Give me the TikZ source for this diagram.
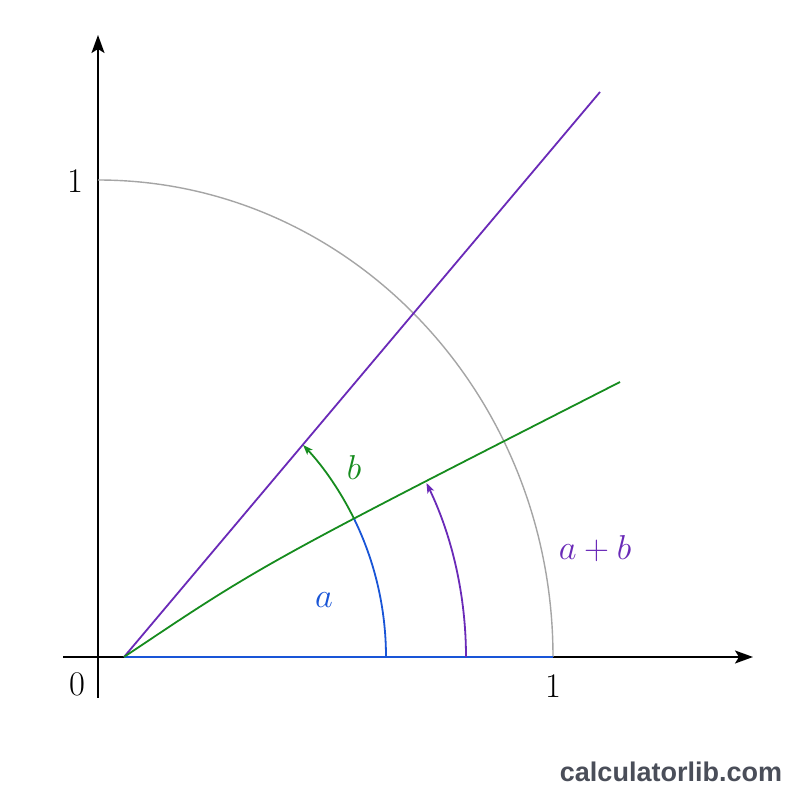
\documentclass[tikz,border=0pt]{standalone}
\usepackage{fontspec}
\newfontfamily\brandfont{Liberation Sans}
\usetikzlibrary{arrows.meta}
\definecolor{cpurple}{RGB}{106,42,184}
\definecolor{cgreen}{RGB}{22,140,30}
\definecolor{cblue}{RGB}{25,85,215}
\definecolor{cgray}{RGB}{165,165,165}
\definecolor{cbrand}{RGB}{74,78,89}
\tikzset{
  axis/.style={line width=1pt,-{Stealth[length=9pt,width=6.5pt,inset=2pt]}},
  ray/.style={line width=0.9pt},
  arcarrow/.style={line width=0.9pt,-{Stealth[length=5pt,width=3.6pt,inset=1.2pt]}},
  lbl/.style={inner sep=0pt},
}
\begin{document}
\begin{tikzpicture}[x=0.5pt,y=0.5pt,font=\fontsize{18}{22}\selectfont]
\useasboundingbox (0,0) rectangle (800,800);
\fill[white] (0,0) rectangle (800,800);
% key points
\coordinate (O) at (98,143);
\coordinate (P) at (124,143);
\coordinate (xs) at (63,143);
\coordinate (xe) at (753,143);
\coordinate (ys) at (98,102);
\coordinate (ye) at (98,765);
\coordinate (one) at (553,143);
\coordinate (pe) at (600,708);
\coordinate (gc) at (262,235.5);
\coordinate (ge) at (620,418);
% axes
\draw[axis] (xs) -- (xe);
\draw[axis] (ys) -- (ye);
% gray quarter arc
\draw[cgray,line width=0.7pt] (one) arc[start angle=0,end angle=90,x radius=227.5pt,y radius=238.5pt];
% rays
\draw[ray,cblue] (P) -- (one);
\draw[ray,cpurple] (P) -- (pe);
\draw[ray,cgreen] (P) .. controls (gc) .. (ge);
% angle arcs
\draw[ray,cblue] (O) ++(0:144pt and 151pt) arc[start angle=0,end angle=27.2,x radius=144pt,y radius=151pt];
\draw[arcarrow,cgreen] (O) ++(27.2:144pt and 151pt) arc[start angle=27.2,end angle=44.6,x radius=144pt,y radius=151pt];
\draw[arcarrow,cpurple] (O) ++(0:184pt and 193pt) arc[start angle=0,end angle=26.8,x radius=184pt,y radius=193pt];
% labels
\node[lbl] (l0) at (77,116) {$0$};
\node[lbl] (l1x) at (553,114) {$1$};
\node[lbl] (l1y) at (75,619) {$1$};
\node[lbl,text=cblue] (la) at (324,200) {$a$};
\node[lbl,text=cgreen] (lb) at (354,333) {$b$};
\node[lbl,text=cpurple] (lab) at (595,251) {$a+b$};
\node[lbl,text=cbrand,font=\brandfont\bfseries\fontsize{13.5}{16}\selectfont] (brand) at (671,28) {calculatorlib.com};
\end{tikzpicture}
\end{document}
